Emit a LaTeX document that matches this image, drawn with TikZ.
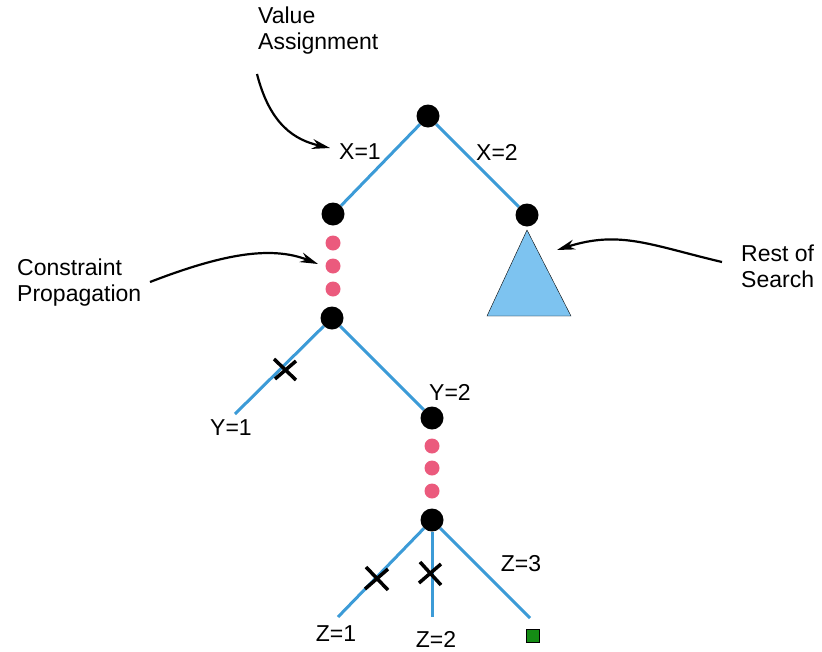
\documentclass[tikz,border=0pt]{standalone}
\usepackage{fontspec}
\setmainfont{Liberation Sans}
\usetikzlibrary{arrows.meta}
\definecolor{branch}{RGB}{60,155,215}
\definecolor{prop}{RGB}{235,90,125}
\definecolor{subtree}{RGB}{125,195,240}
\definecolor{goal}{RGB}{20,140,20}
\tikzset{
  state/.style={circle,fill=black,inner sep=0pt,minimum size=23pt},
  propdot/.style={circle,fill=prop,inner sep=0pt,minimum size=15pt},
  edge/.style={draw=branch,line width=3pt},
  lbl/.style={inner sep=0pt,font=\fontsize{23}{27}\selectfont},
  note/.style={inner sep=0pt,align=left,anchor=west,font=\fontsize{23}{26}\selectfont},
  pointer/.style={line width=2.2pt,-{Stealth[length=18pt,width=10pt]}},
  fail/.style={line width=3.5pt}
}
\begin{document}
\begin{tikzpicture}[x=1pt,y=-1pt]
\useasboundingbox (0,0) rectangle (822,651);
% tree states
\node[state] (root) at (428,116) {};
\node[state] (a) at (333,214) {};
\node[state] (b) at (527,215) {};
\node[propdot] (p1) at (333,243) {};
\node[propdot] (p2) at (333,266) {};
\node[propdot] (p3) at (333,289) {};
\node[state] (c) at (332,318) {};
\node[state] (d) at (432,418) {};
\node[propdot] (q1) at (432,446) {};
\node[propdot] (q2) at (432,468) {};
\node[propdot] (q3) at (432,491) {};
\node[state] (e) at (432,520) {};
\coordinate (y1) at (235,414);
\coordinate (z1) at (338,617);
\coordinate (z2) at (432,617);
\coordinate (z3) at (530,618);
% branches
\draw[edge] (root) -- (a);
\draw[edge] (root) -- (b);
\draw[edge] (c) -- (y1);
\draw[edge] (c) -- (d);
\draw[edge] (e) -- (z1);
\draw[edge] (e) -- (z2);
\draw[edge] (e) -- (z3);
% rest of search
\draw[black,fill=subtree] (527,230) -- (571,316) -- (487,316) -- cycle;
% goal
\node[fill=goal,draw=black,inner sep=0pt,minimum size=13pt] (g) at (533,636) {};
% failures
\draw[fail] (274,359) -- (296,380);
\draw[fail] (275,379) -- (296,361);
\draw[fail] (366,567) -- (388,590);
\draw[fail] (365,589) -- (388,569);
\draw[fail] (420,562) -- (441,585);
\draw[fail] (419,583) -- (441,564);
% branch labels
\node[lbl] (x1) at (360,152) {X=1};
\node[lbl] (x2) at (497,152) {X=2};
\node[lbl] (ly1) at (231,428) {Y=1};
\node[lbl] (ly2) at (450,392) {Y=2};
\node[lbl] (lz1) at (336,634) {Z=1};
\node[lbl] (lz2) at (436,639) {Z=2};
\node[lbl] (lz3) at (521,564) {Z=3};
% notes
\node[note] (va) at (258,31) {Value\\Assignment};
\node[note] (cp) at (17,283) {Constraint\\Propagation};
\node[note] (rs) at (741,266) {Rest of\\Search};
\draw[pointer] (257,74) .. controls (270,125) and (295,140) .. (330,148);
\draw[pointer] (150,282) .. controls (220,255) and (270,245) .. (318,264);
\draw[pointer] (722,262) .. controls (650,245) and (620,230) .. (557,250);
\end{tikzpicture}
\end{document}
